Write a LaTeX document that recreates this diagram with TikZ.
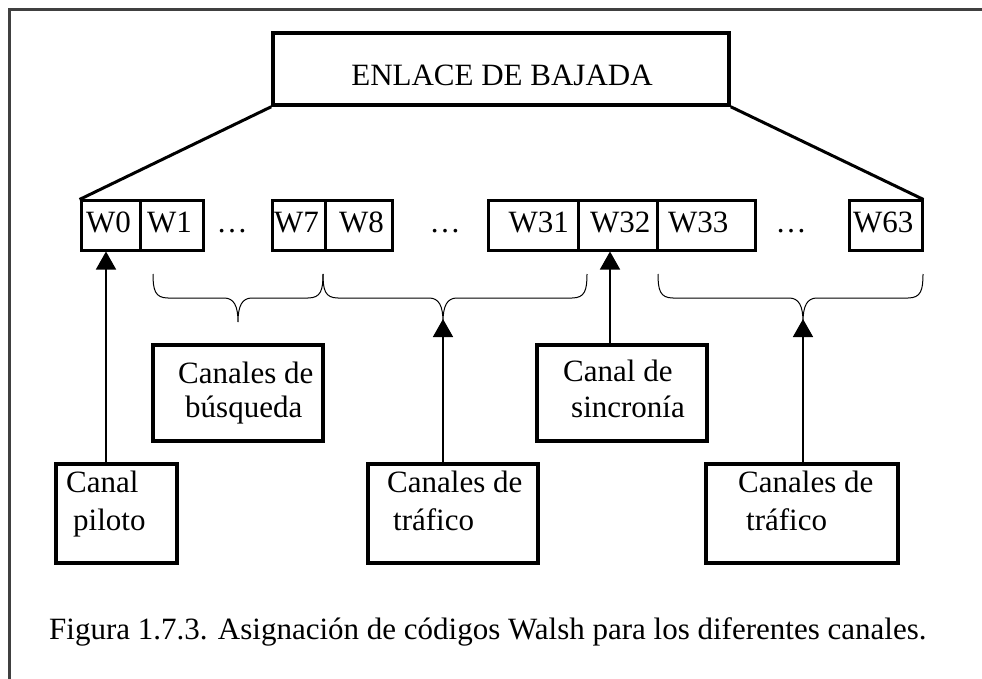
\documentclass[tikz,border=0pt]{standalone}
\usepackage{fontspec}
\setmainfont{Liberation Serif}
\usetikzlibrary{arrows.meta}
\begin{document}
\begin{tikzpicture}[x=1pt,y=-1pt,
  txt/.style={inner sep=0pt, anchor=base west, font=\fontsize{31}{36}\selectfont},
  cell/.style={draw, line width=3pt, inner sep=0pt},
  chbox/.style={draw, line width=3.5pt, inner sep=0pt},
  conn/.style={line width=1.5pt, -{Triangle[width=20pt,length=18pt]}},
  bracestyle/.style={line width=1pt},
  trap/.style={line width=3pt},
  frame/.style={line width=3pt, black!75}
]
\useasboundingbox (0,0) rectangle (982,679);
\draw[frame] (9,679) -- (9,10) -- (982,10);

% top box
\node[chbox, minimum width=456pt, minimum height=72pt] (top) at (501,69) {};
\node[txt, anchor=base] (toptxt) at (502,86) {ENLACE DE BAJADA};

% Walsh cells
\node[cell, minimum width=59pt, minimum height=49pt] (w0) at (110.5,225.5) {};
\node[cell, minimum width=63pt, minimum height=49pt] (w1) at (171.5,225.5) {};
\node[cell, minimum width=53pt, minimum height=49pt] (w7) at (298.5,225.5) {};
\node[cell, minimum width=67pt, minimum height=49pt] (w8) at (358.5,225.5) {};
\node[cell, minimum width=90pt, minimum height=49pt] (w31) at (533,225.5) {};
\node[cell, minimum width=79pt, minimum height=49pt] (w32) at (617.5,225.5) {};
\node[cell, minimum width=98pt, minimum height=49pt] (w33) at (706,225.5) {};
\node[cell, minimum width=73pt, minimum height=49pt] (w63) at (885.5,225.5) {};

\node[txt] (l0) at (86,233) {W0};
\node[txt] (l1) at (147,233) {W1};
\node[txt] (l7) at (274,233) {W7};
\node[txt] (l8) at (339,233) {W8};
\node[txt, anchor=base east] (l31) at (569,233) {W31};
\node[txt] (l32) at (590,233) {W32};
\node[txt] (l33) at (668,233) {W33};
\node[txt] (l63) at (853,233) {W63};
\node[txt, anchor=base] (d1) at (232,233) {…};
\node[txt, anchor=base] (d2) at (445,233) {…};
\node[txt, anchor=base] (d3) at (791,233) {…};

% trapezoid sides
\draw[trap] (top.south west) -- (w0.north west);
\draw[trap] (top.south east) -- (w63.north east);

% braces
\coordinate (b1tip) at (238,322);
\coordinate (b2tip) at (443,322);
\coordinate (b3tip) at (803,322);
\draw[bracestyle] (153,274) .. controls (153,290) and (155,298) .. (168,298) -- (224,298)
  .. controls (234,298) and (238,306) .. (b1tip) .. controls (238,306) and (242,298) .. (252,298)
  -- (308,298) .. controls (321,298) and (323,290) .. (323,274);
\draw[bracestyle] (323,274) .. controls (323,290) and (325,298) .. (338,298) -- (429,298)
  .. controls (439,298) and (443,306) .. (b2tip) .. controls (443,306) and (447,298) .. (457,298)
  -- (572,298) .. controls (585,298) and (587,290) .. (587,274);
\draw[bracestyle] (658,274) .. controls (658,290) and (660,298) .. (673,298) -- (789,298)
  .. controls (799,298) and (803,306) .. (b3tip) .. controls (803,306) and (807,298) .. (817,298)
  -- (908,298) .. controls (921,298) and (923,290) .. (923,274);

% lower boxes
\node[chbox, minimum width=170pt, minimum height=96pt] (bus) at (238,393) {};
\node[chbox, minimum width=170pt, minimum height=96pt] (sinc) at (622,393) {};
\node[chbox, minimum width=121pt, minimum height=99pt] (pil) at (116.5,513.5) {};
\node[chbox, minimum width=170pt, minimum height=99pt] (tr1) at (453,513.5) {};
\node[chbox, minimum width=192pt, minimum height=99pt] (tr2) at (802,513.5) {};

\node[txt] (bus1) at (178,383) {Canales de};
\node[txt] (bus2) at (185,417) {búsqueda};
\node[txt] (sinc1) at (563,381) {Canal de};
\node[txt] (sinc2) at (571,417) {sincronía};
\node[txt] (pil1) at (66,492) {Canal};
\node[txt] (pil2) at (73,530) {piloto};
\node[txt] (tra1) at (387,492) {Canales de};
\node[txt] (tra2) at (393,530) {tráfico};
\node[txt] (trb1) at (738,492) {Canales de};
\node[txt] (trb2) at (746,530) {tráfico};

% arrows
\coordinate (a0) at (106,0);
\coordinate (a32) at (610,0);
\draw[conn] (a0 |- pil.north) -- (a0 |- w0.south);
\draw[conn] (a32 |- sinc.north) -- (a32 |- w32.south);
\draw[conn] (b2tip |- tr1.north) -- ([yshift=3pt]b2tip);
\draw[conn] (b3tip |- tr2.north) -- ([yshift=3pt]b3tip);

% caption
\node[txt] (cap) at (49,639) {Figura 1.7.3. Asignación de códigos Walsh para los diferentes canales.};
\end{tikzpicture}
\end{document}
